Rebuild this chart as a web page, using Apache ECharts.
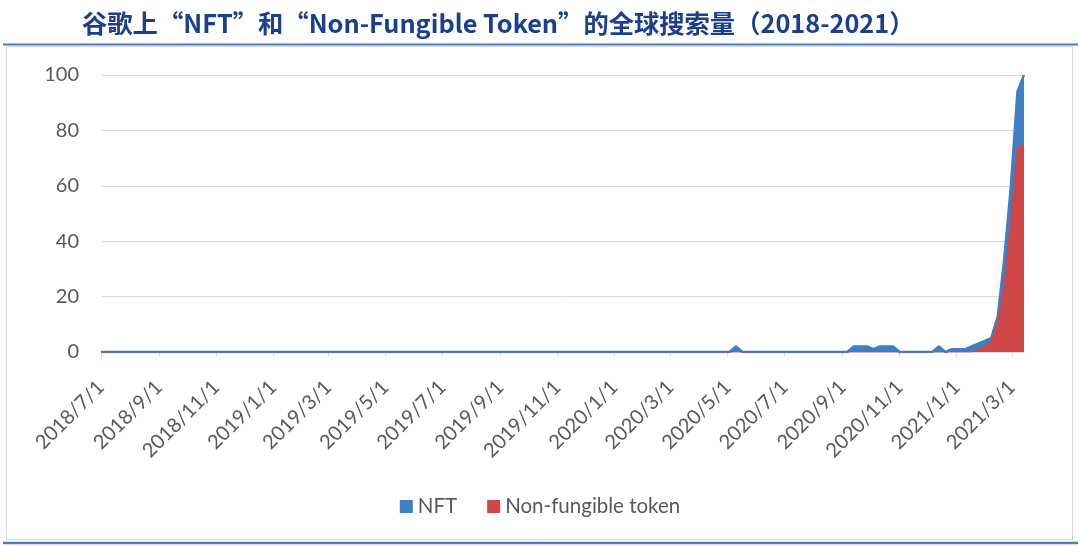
<!DOCTYPE html>
<html>
<head>
<meta charset="utf-8">
<script src="https://cdn.jsdelivr.net/npm/echarts@6/dist/echarts.min.js"></script>
<style>
  html, body { margin: 0; padding: 0; background: #fff; }
  #main { width: 1080px; height: 546px; }
</style>
</head>
<body>
<div id="main"></div>
<script>
// weekly Google Trends points, first week starts 2018/7/1
const firstWeek = [2018, 6, 1];
const seriesNames = ["NFT", "Non-fungible token"];

const nftValues = [
  0, 0, 0, 0, 0, 0, 0, 0, 0, 0,
  0, 0, 0, 0, 0, 0, 0, 0, 0, 0,
  0, 0, 0, 0, 0, 0, 0, 0, 0, 0,
  0, 0, 0, 0, 0, 0, 0, 0, 0, 0,
  0, 0, 0, 0, 0, 0, 0, 0, 0, 0,
  0, 0, 0, 0, 0, 0, 0, 0, 0, 0,
  0, 0, 0, 0, 0, 0, 0, 0, 0, 0,
  0, 0, 0, 0, 0, 0, 0, 0, 0, 0,
  0, 0, 0, 0, 0, 0, 0, 0, 0, 0,
  0, 0, 0, 0, 0, 0, 0, 2, 0, 0,
  0, 0, 0, 0, 0, 0, 0, 0, 0, 0,
  0, 0, 0, 0, 0, 2, 2, 2, 1, 2,
  2, 2, 0, 0, 0, 0, 0, 0, 2, 0,
  1, 1, 1, 2, 3, 4, 5, 13, 34, 60,
  94, 100
];

const tokenValues = [
  0, 0, 0, 0, 0, 0, 0, 0, 0, 0,
  0, 0, 0, 0, 0, 0, 0, 0, 0, 0,
  0, 0, 0, 0, 0, 0, 0, 0, 0, 0,
  0, 0, 0, 0, 0, 0, 0, 0, 0, 0,
  0, 0, 0, 0, 0, 0, 0, 0, 0, 0,
  0, 0, 0, 0, 0, 0, 0, 0, 0, 0,
  0, 0, 0, 0, 0, 0, 0, 0, 0, 0,
  0, 0, 0, 0, 0, 0, 0, 0, 0, 0,
  0, 0, 0, 0, 0, 0, 0, 0, 0, 0,
  0, 0, 0, 0, 0, 0, 0, 0, 0, 0,
  0, 0, 0, 0, 0, 0, 0, 0, 0, 0,
  0, 0, 0, 0, 0, 0, 0, 0, 0, 0,
  0, 0, 0, 0, 0, 0, 0, 0, 0, 0,
  0, 0, 0, 0, 1, 2, 4, 11, 25, 48,
  74, 75
];

const DAY = 24 * 3600 * 1000;
const weekDates = nftValues.map((_, i) => new Date(firstWeek[0], firstWeek[1], firstWeek[2] + i * 7).getTime());

const labelFont = "Lato";
const labelColor = "#595959";
const gridColor = "#d9d9d9";
const blue = "#3f7fc3";
const red = "#cf4647";

const chart = echarts.init(document.getElementById("main"), null, { renderer: "canvas" });

const option = {
  animation: false,
  backgroundColor: "#fff",
  title: {
    text: "谷歌上“NFT”和“Non-Fungible Token”的全球搜索量（2018-2021）",
    left: 77,
    top: 6,
    textStyle: {
      fontFamily: "Noto Sans CJK SC",
      fontSize: 25.3,
      fontWeight: "bold",
      color: "#1b3f8f",
    },
  },
  graphic: [
    { type: "line", shape: { x1: 3, y1: 44.5, x2: 1078, y2: 44.5 }, style: { stroke: "#4a7ebb", lineWidth: 2 } },
    { type: "rect", shape: { x: 6.5, y: 46.5, width: 1066, height: 493 }, style: { fill: null, stroke: gridColor, lineWidth: 1 } },
    { type: "line", shape: { x1: 3, y1: 543, x2: 1078, y2: 543 }, style: { stroke: "#4a7ebb", lineWidth: 2.5 } },
  ],
  legend: {
    data: seriesNames,
    left: "center",
    top: 491,
    icon: "rect",
    itemWidth: 13,
    itemHeight: 13,
    itemGap: 30,
    textStyle: { fontFamily: labelFont, fontSize: 20.5, color: labelColor },
  },
  grid: {
    left: 101,
    right: 56,
    top: 75,
    bottom: 194,
    outerBoundsMode: "none",
  },
  xAxis: {
    type: "time",
    min: weekDates[0],
    max: weekDates[weekDates.length - 1],
    minInterval: 61 * DAY,
    maxInterval: 61 * DAY,
    axisLine: { lineStyle: { color: gridColor } },
    axisTick: { show: true, length: 5, lineStyle: { color: gridColor } },
    splitLine: { show: false },
    axisLabel: {
      rotate: 45,
      margin: 32,
      fontFamily: labelFont,
      fontSize: 20,
      color: labelColor,
      formatter: (value) => {
        const d = new Date(value);
        return d.getFullYear() + "/" + (d.getMonth() + 1) + "/" + d.getDate();
      },
    },
  },
  yAxis: {
    type: "value",
    min: 0,
    max: 100,
    interval: 20,
    axisLine: { show: false },
    axisTick: { show: false },
    splitLine: { lineStyle: { color: gridColor, width: 1 } },
    axisLabel: { margin: 22, fontFamily: labelFont, fontSize: 20, color: labelColor },
  },
  series: [
    {
      name: seriesNames[0],
      type: "line",
      data: weekDates.map((t, i) => [t, nftValues[i]]),
      symbol: "none",
      color: blue,
      lineStyle: { color: blue, width: 2.5 },
      areaStyle: { color: blue, opacity: 1 },
    },
    {
      name: seriesNames[1],
      type: "line",
      data: weekDates.map((t, i) => [t, tokenValues[i]]),
      symbol: "none",
      color: red,
      lineStyle: { color: red, width: 1 },
      areaStyle: { color: red, opacity: 1 },
    },
  ],
};

chart.setOption(option, true);
</script>
</body>
</html>
